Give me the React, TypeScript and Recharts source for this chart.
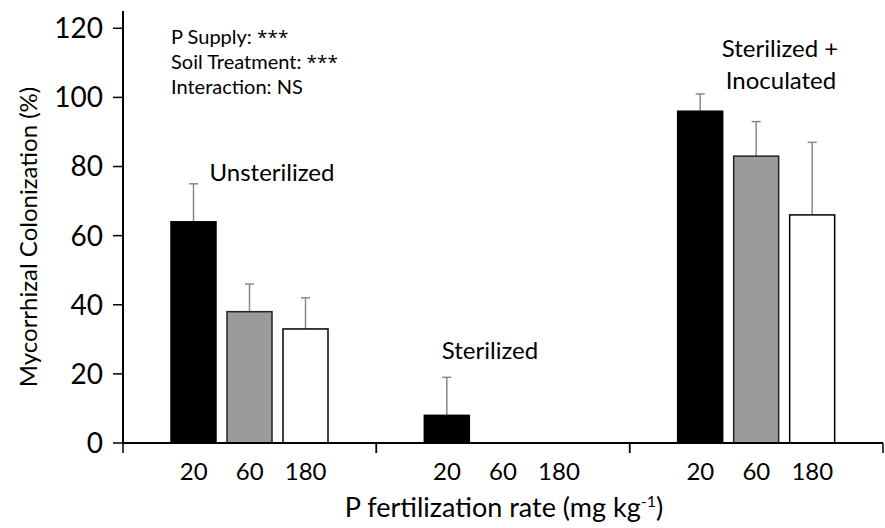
import React from 'react';
import { BarChart, Bar, XAxis, YAxis, Customized } from 'recharts';

const treatments = ['Unsterilized', 'Sterilized', 'Sterilized + Inoculated'];
const rateLabels = ['20', '60', '180'];
const p20 = [64, 8, 96];
const p60 = [38, 0, 83];
const p180 = [33, 0, 66];
const p20Err = [11, 11, 5];
const p60Err = [8, 0, 10];
const p180Err = [9, 0, 21];
const yTicks = [0, 20, 40, 60, 80, 100, 120];

const data = treatments.map((t, i) => ({
  treatment: t,
  p20: p20[i],
  p60: p60[i],
  p180: p180[i],
  p20e: p20Err[i],
  p60e: p60Err[i],
  p180e: p180Err[i],
}));

const W = 885;
const H = 528;
const MARGIN = { top: 11, right: 2, bottom: 0, left: 0 };
const Y_AXIS_W = 123;
const X_AXIS_H = 85;
const PLOT_W = W - MARGIN.left - MARGIN.right - Y_AXIS_W;
const BAND = PLOT_W / treatments.length;
const BAR_SIZE = 45;
const BAR_GAP = 11;
const STEP = BAR_SIZE + BAR_GAP;
const FONT = 'Lato, "Open Sans", sans-serif';
const ERR_COLOR = '#888';

function GroupTick(props: any) {
  const { x, y } = props;
  return (
    <g>
      <line x1={x - BAND / 2} x2={x - BAND / 2} y1={y} y2={y + 10} stroke="#000" strokeWidth={1.5} />
      <line x1={x + BAND / 2} x2={x + BAND / 2} y1={y} y2={y + 10} stroke="#000" strokeWidth={1.5} />
      {rateLabels.map((r, i) => (
        <text key={r} x={x + (i - 1) * STEP} y={y + 37} textAnchor="middle" fontSize={24} fontFamily={FONT} fill="#000">
          {r}
        </text>
      ))}
    </g>
  );
}

// Bar with an upward-only error whisker drawn behind it (scale taken from bar's own pixel height/value)
function makeBarShape(valueKey: string, errKey: string) {
  return (props: any) => {
    const { x, y, width, height, payload, fill, stroke, strokeWidth } = props;
    const v = payload[valueKey];
    const e = payload[errKey];
    if (!v || !(height > 0)) return <g />;
    const pxPerUnit = height / v;
    const cx = x + width / 2;
    const top = y - e * pxPerUnit;
    return (
      <g>
        {e ? (
          <g>
            <line x1={cx} x2={cx} y1={y} y2={top} stroke={ERR_COLOR} strokeWidth={1.5} />
            <line x1={cx - 4.5} x2={cx + 4.5} y1={top} y2={top} stroke={ERR_COLOR} strokeWidth={1.5} />
          </g>
        ) : null}
        <rect x={x} y={y} width={width} height={height} fill={fill} stroke={stroke} strokeWidth={strokeWidth} />
      </g>
    );
  };
}

function Annotations() {
  const t = { fontFamily: FONT, fill: '#000' };
  const star = { fontFamily: '"Open Sans", sans-serif', fontSize: 19, fill: '#000' };
  return (
    <g>
      <text x={171} y={44} fontSize={20} {...t}>P Supply: <tspan {...star}>***</tspan></text>
      <text x={171} y={69} fontSize={20} {...t}>Soil Treatment: <tspan {...star}>***</tspan></text>
      <text x={171} y={94} fontSize={20} {...t}>Interaction: NS</text>
      <text x={272} y={181} fontSize={24} textAnchor="middle" {...t}>Unsterilized</text>
      <text x={490} y={359} fontSize={24} textAnchor="middle" {...t}>Sterilized</text>
      <text x={780} y={57} fontSize={24} textAnchor="middle" {...t}>Sterilized +</text>
      <text x={781} y={89} fontSize={24} textAnchor="middle" {...t}>Inoculated</text>
      <text x={504} y={517} fontSize={27} textAnchor="middle" {...t}>
        P fertilization rate (mg kg<tspan dy={-10} fontSize={16}>-1</tspan><tspan dy={10}>)</tspan>
      </text>
      <text x={37} y={237} fontSize={24} textAnchor="middle" transform="rotate(-90, 37, 237)" {...t}>
        Mycorrhizal Colonization (%)
      </text>
    </g>
  );
}

export default function App() {
  return (
    <div style={{ position: 'absolute', left: 0, top: 0, width: W, height: H, background: '#fff' }}>
      <BarChart width={W} height={H} data={data} margin={MARGIN} barSize={BAR_SIZE} barGap={BAR_GAP}>
        <XAxis
          dataKey="treatment"
          height={X_AXIS_H}
          axisLine={{ stroke: '#000', strokeWidth: 2 }}
          tickLine={false}
          tickSize={0}
          tickMargin={0}
          tick={<GroupTick />}
          interval={0}
        />
        <XAxis xAxisId="top" dataKey="treatment" orientation="top" height={0} tick={false} tickLine={false} axisLine={{ stroke: '#000', strokeWidth: 1.5 }} />
        <YAxis
          width={Y_AXIS_W}
          domain={[0, 125]}
          ticks={yTicks}
          interval={0}
          axisLine={{ stroke: '#000', strokeWidth: 2 }}
          tickLine={{ stroke: '#000', strokeWidth: 1.5 }}
          tickSize={10}
          tickMargin={10}
          tick={{ fill: '#000', fontSize: 28, fontFamily: FONT }}
        />
        <YAxis yAxisId="right" orientation="right" width={0} tick={false} tickLine={false} axisLine={{ stroke: '#000', strokeWidth: 1.5 }} />
        <Bar dataKey="p20" fill="#000" stroke="#000" strokeWidth={1.5} isAnimationActive={false} shape={makeBarShape('p20', 'p20e')} />
        <Bar dataKey="p60" fill="#9b9b9b" stroke="#222" strokeWidth={1.5} isAnimationActive={false} shape={makeBarShape('p60', 'p60e')} />
        <Bar dataKey="p180" fill="#fff" stroke="#000" strokeWidth={1.5} isAnimationActive={false} shape={makeBarShape('p180', 'p180e')} />
        <Customized component={Annotations} />
      </BarChart>
    </div>
  );
}
